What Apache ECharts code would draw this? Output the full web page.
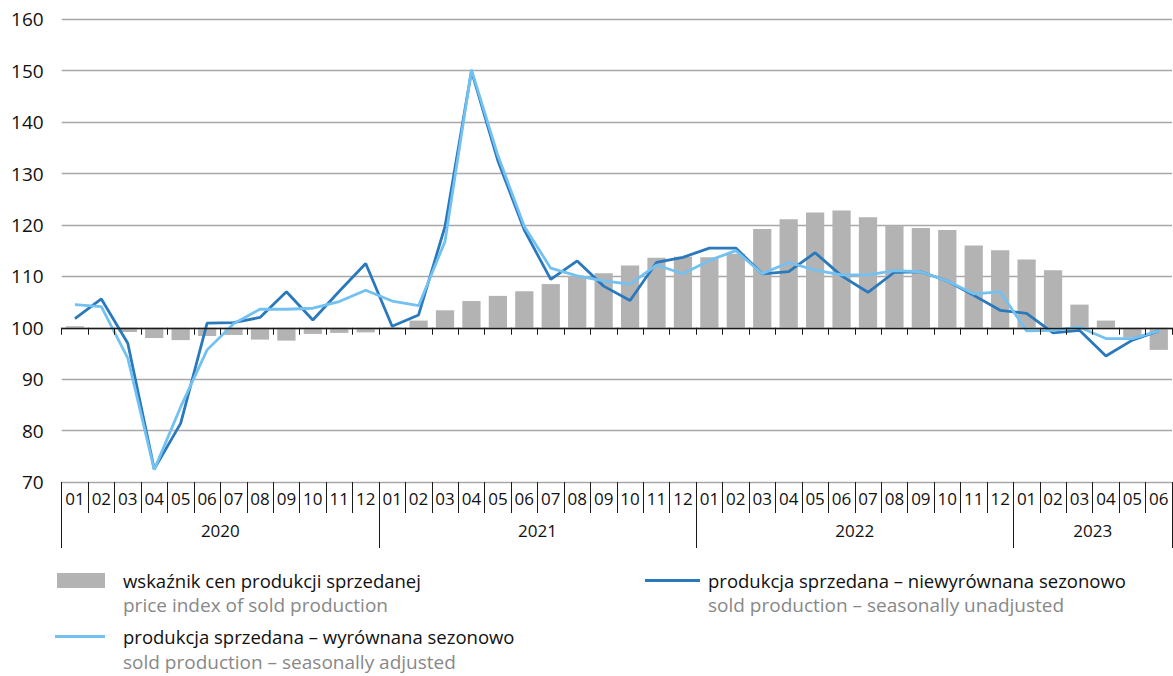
<!DOCTYPE html>
<html>
<head>
<meta charset="utf-8">
<script src="https://cdn.jsdelivr.net/npm/echarts@6/dist/echarts.min.js"></script>
<style>
  html, body { margin: 0; padding: 0; background: #ffffff; }
  #chart { width: 1173px; height: 676px; }
</style>
</head>
<body>
<div id="chart"></div>
<script>
// Month labels, 2020-01 .. 2023-06
const months = [
  '01','02','03','04','05','06','07','08','09','10','11','12',
  '01','02','03','04','05','06','07','08','09','10','11','12',
  '01','02','03','04','05','06','07','08','09','10','11','12',
  '01','02','03','04','05','06'
];
const years = ['2020', '2021', '2022', '2023'];
const yTicks = [70, 80, 90, 100, 110, 120, 130, 140, 150, 160];

// Price index of sold production (previous year = 100)
const priceIndex = [
  100.3, 100.0, 99.2, 98.0, 97.6, 98.4, 98.6, 97.7, 97.5, 98.8, 99.0, 99.1,
  100.1, 101.4, 103.4, 105.2, 106.2, 107.1, 108.5, 110.0, 110.6, 112.1, 113.6, 113.8,
  113.7, 114.4, 119.2, 121.1, 122.4, 122.8, 121.5, 119.9, 119.4, 119.0, 116.0, 115.1,
  113.3, 111.2, 104.5, 101.4, 98.1, 95.7
];
// Sold production, seasonally unadjusted
const soldUnadjusted = [
  101.8, 105.6, 97.0, 72.5, 81.4, 100.9, 101.0, 102.0, 107.0, 101.5, 107.1, 112.5,
  100.3, 102.5, 119.7, 149.9, 132.5, 119.0, 109.4, 113.0, 108.1, 105.3, 112.7, 113.7,
  115.5, 115.5, 110.5, 110.9, 114.6, 110.1, 106.9, 110.8, 110.9, 109.1, 106.3, 103.4,
  102.8, 99.0, 99.5, 94.5, 97.6, 99.4
];
// Sold production, seasonally adjusted
const soldAdjusted = [
  104.5, 104.1, 94.1, 72.4, 84.6, 95.7, 100.8, 103.6, 103.6, 103.8, 105.1, 107.3,
  105.2, 104.3, 116.8, 150.2, 133.5, 119.7, 111.6, 110.1, 109.1, 108.5, 112.2, 110.5,
  113.1, 115.0, 110.5, 112.7, 111.2, 110.3, 110.3, 111.1, 110.9, 109.1, 106.6, 107.0,
  99.4, 99.5, 100.1, 97.9, 97.9, 99.4
];

const names = {
  price: 'wskaźnik cen produkcji sprzedanej',
  unadj: 'produkcja sprzedana – niewyrównana sezonowo',
  adj: 'produkcja sprzedana – wyrównana sezonowo'
};
const subNames = {
  price: 'price index of sold production',
  unadj: 'sold production – seasonally unadjusted',
  adj: 'sold production – seasonally adjusted'
};

// Index base: bars grow up or down from 100, so the value axis is measured from it
const BASE = 100;
const rel = arr => arr.map(v => +(v - BASE).toFixed(2));

// Year boundaries and mid-points on a 0..n month scale
const n = months.length;
const yearStarts = [0, 12, 24, 36];
const yearBounds = yearStarts.concat([n]);
const yearMids = yearStarts.map(s => (s + Math.min(s + 12, n)) / 2);

const FONT = '"Open Sans", "Noto Sans", sans-serif';
const TEXT = '#111111';
const SUB = '#888888';
const DARK = '#2a79bd';
const LIGHT = '#72c1f1';
const BAR = '#b3b3b3';
const LEG_SIZE = 18.5;
const SUB_SIZE = 19;

const chart = echarts.init(document.getElementById('chart'), null, { renderer: 'svg' });

chart.setOption({
  animation: false,
  backgroundColor: '#ffffff',
  textStyle: { fontFamily: FONT },
  grid: { left: 61.7, right: 1, top: 19.3, bottom: 194, containLabel: false },
  yAxis: {
    type: 'value',
    min: yTicks[0] - BASE,
    max: yTicks[yTicks.length - 1] - BASE,
    interval: yTicks[1] - yTicks[0],
    axisLine: { show: false },
    axisTick: { show: false },
    axisLabel: {
      formatter: v => String(v + BASE),
      color: TEXT, fontSize: 19, fontFamily: FONT, margin: 18
    },
    splitLine: { lineStyle: { color: '#a8a8a8', width: 1.3 } }
  },
  xAxis: [
    { // black base line at 100 with short ticks below it
      type: 'category', data: months, boundaryGap: true,
      axisLine: { onZero: true, lineStyle: { color: '#1a1a1a', width: 1.4 } },
      axisTick: { show: true, length: 7, inside: false, interval: 0, lineStyle: { color: '#1a1a1a', width: 1 } },
      axisLabel: { show: false },
      splitLine: { show: false }, z: 5
    },
    { // month row under the plot
      type: 'category', data: months, boundaryGap: true, position: 'bottom',
      axisLine: { show: false, onZero: false },
      axisTick: { show: true, length: 31, interval: 0, lineStyle: { color: '#1a1a1a', width: 1 } },
      axisLabel: { interval: 0, color: TEXT, fontSize: 17, fontFamily: FONT, margin: 8 },
      splitLine: { show: false }
    },
    { // year row with long separators
      type: 'value', min: 0, max: n, position: 'bottom',
      axisLine: { show: false, onZero: false },
      axisTick: { show: true, length: 66, customValues: yearBounds, lineStyle: { color: '#1a1a1a', width: 1 } },
      axisLabel: {
        customValues: yearMids,
        formatter: v => years[Math.floor(v / 12)],
        color: TEXT, fontSize: 17, fontFamily: FONT, margin: 40
      },
      splitLine: { show: false }
    }
  ],
  legend: [
    {
      data: [names.price], left: 57, top: 571, padding: 0,
      icon: 'rect', itemWidth: 48, itemHeight: 15,
      textStyle: { color: TEXT, fontSize: LEG_SIZE, fontFamily: FONT, padding: [0, 0, 0, 13] },
      selectedMode: false
    },
    {
      data: [names.unadj], left: 645, top: 571, padding: 0,
      icon: 'rect', itemWidth: 55, itemHeight: 3,
      textStyle: { color: TEXT, fontSize: LEG_SIZE, fontFamily: FONT, padding: [0, 0, 0, 3] },
      selectedMode: false
    },
    {
      data: [names.adj], left: 55, top: 627, padding: 0,
      icon: 'rect', itemWidth: 50, itemHeight: 3,
      textStyle: { color: TEXT, fontSize: LEG_SIZE, fontFamily: FONT, padding: [0, 0, 0, 13] },
      selectedMode: false
    }
  ],
  graphic: [
    { type: 'text', left: 123, top: 595, style: { text: subNames.price, fill: SUB, fontSize: SUB_SIZE, fontFamily: FONT } },
    { type: 'text', left: 708, top: 595, style: { text: subNames.unadj, fill: SUB, fontSize: SUB_SIZE, fontFamily: FONT } },
    { type: 'text', left: 123, top: 652, style: { text: subNames.adj, fill: SUB, fontSize: SUB_SIZE, fontFamily: FONT } }
  ],
  series: [
    {
      name: names.price, type: 'bar', xAxisIndex: 0, yAxisIndex: 0,
      data: rel(priceIndex), barWidth: '69%',
      itemStyle: { color: BAR }, z: 1
    },
    {
      name: names.unadj, type: 'line', xAxisIndex: 0, yAxisIndex: 0,
      data: rel(soldUnadjusted), symbol: 'none', color: DARK,
      lineStyle: { color: DARK, width: 2.8 }, itemStyle: { color: DARK }, z: 3
    },
    {
      name: names.adj, type: 'line', xAxisIndex: 0, yAxisIndex: 0,
      data: rel(soldAdjusted), symbol: 'none', color: LIGHT,
      lineStyle: { color: LIGHT, width: 2.8 }, itemStyle: { color: LIGHT }, z: 4
    }
  ]
});
</script>
</body>
</html>
